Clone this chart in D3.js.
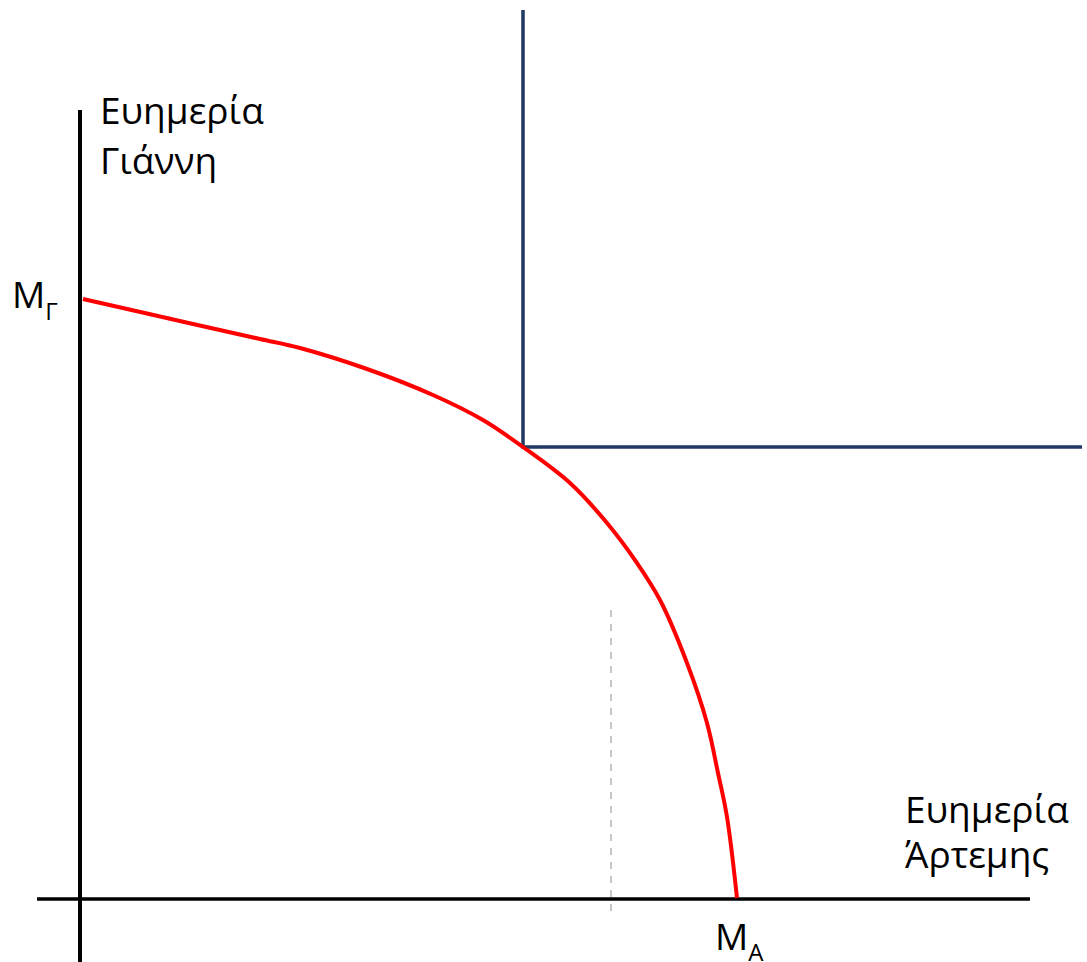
<!DOCTYPE html>
<meta charset="utf-8">

<!-- Load d3.js -->
<script src="https://d3js.org/d3.v7.min.js"></script>

<style>
body { margin: 0; background: #fff; }
text { font-family: "Open Sans", sans-serif; fill: #000; }
</style>

<div id="my_dataviz"></div>

<script>

    // welfare frontier (x = Άρτεμη, y = Γιάννη)
    var frontierX = [3, 113, 180, 220, 287, 353, 403, 443, 490, 527, 557, 580, 607, 627, 638, 647, 657]
    var frontierY = [600, 575, 560, 551, 530, 504, 479, 452, 416, 376, 336, 299, 236, 176, 126, 82, 1]

    // the L-shaped indifference curve: corner point and ends
    var cornerX = [443, 443, 1002]
    var cornerY = [889, 452, 452]

    // dashed guide
    var guideX = [531, 531]
    var guideY = [289, -14]

    // axis ends
    var xAxisEnds = [-43, 950]
    var yAxisEnds = [-63, 789]

    // dimensions
    var width = 1087,
        height = 962

    var svg = d3.select("#my_dataviz")
      .append("svg")
        .attr("width", width)
        .attr("height", height)

    // scales: origin at (80, 899) on the page
    var x = d3.scaleLinear()
      .domain([0, 950])
      .range([80, 1030])

    var y = d3.scaleLinear()
      .domain([0, 889])
      .range([899, 10])

    // axes (plain lines, no ticks)
    svg.append("line")
      .attr("x1", x(0)).attr("x2", x(0))
      .attr("y1", y(yAxisEnds[0])).attr("y2", y(yAxisEnds[1]))
      .attr("stroke", "black")
      .attr("stroke-width", 4)

    svg.append("line")
      .attr("x1", x(xAxisEnds[0])).attr("x2", x(xAxisEnds[1]))
      .attr("y1", y(0)).attr("y2", y(0))
      .attr("stroke", "black")
      .attr("stroke-width", 3.5)

    // dashed grey line
    svg.append("line")
      .attr("x1", x(guideX[0])).attr("x2", x(guideX[1]))
      .attr("y1", y(guideY[0])).attr("y2", y(guideY[1]))
      .attr("stroke", "#c6c6c6")
      .attr("stroke-width", 2)
      .attr("stroke-dasharray", "7,7")

    // indifference curve
    var cornerPts = cornerX.map(function(d, i){ return [d, cornerY[i]] })
    svg.append("path")
      .datum(cornerPts)
      .attr("fill", "none")
      .attr("stroke", "#1f3864")
      .attr("stroke-width", 3.5)
      .attr("d", d3.line()
        .x(function(d){ return x(d[0]) })
        .y(function(d){ return y(d[1]) }))

    // frontier
    var pts = frontierX.map(function(d, i){ return [d, frontierY[i]] })
    svg.append("path")
      .datum(pts)
      .attr("fill", "none")
      .attr("stroke", "#ff0000")
      .attr("stroke-width", 4)
      .attr("d", d3.line()
        .curve(d3.curveCatmullRom.alpha(0.5))
        .x(function(d){ return x(d[0]) })
        .y(function(d){ return y(d[1]) }))

    // labels
    var fs = 37

    var yLab = svg.append("text")
      .attr("x", 100)
      .attr("y", 124)
      .style("font-size", fs + "px")
    yLab.append("tspan").attr("x", 100).text("Ευημερία")
    yLab.append("tspan").attr("x", 100).attr("dy", 50).text("Γιάννη")

    var xLab = svg.append("text")
      .attr("x", 905)
      .attr("y", 823)
      .style("font-size", fs + "px")
    xLab.append("tspan").attr("x", 905).text("Ευημερία")
    xLab.append("tspan").attr("x", 905).attr("dy", 45).text("Άρτεμης")

    // M with subscripts
    var mg = svg.append("text")
      .attr("x", 12)
      .attr("y", 308)
      .style("font-size", fs + "px")
    mg.append("tspan").text("M")
    mg.append("tspan").attr("dy", 12).style("font-size", "24px").text("Γ")

    var ma = svg.append("text")
      .attr("x", 715)
      .attr("y", 950)
      .style("font-size", fs + "px")
    ma.append("tspan").text("M")
    ma.append("tspan").attr("dy", 11).style("font-size", "24px").text("A")

</script>
